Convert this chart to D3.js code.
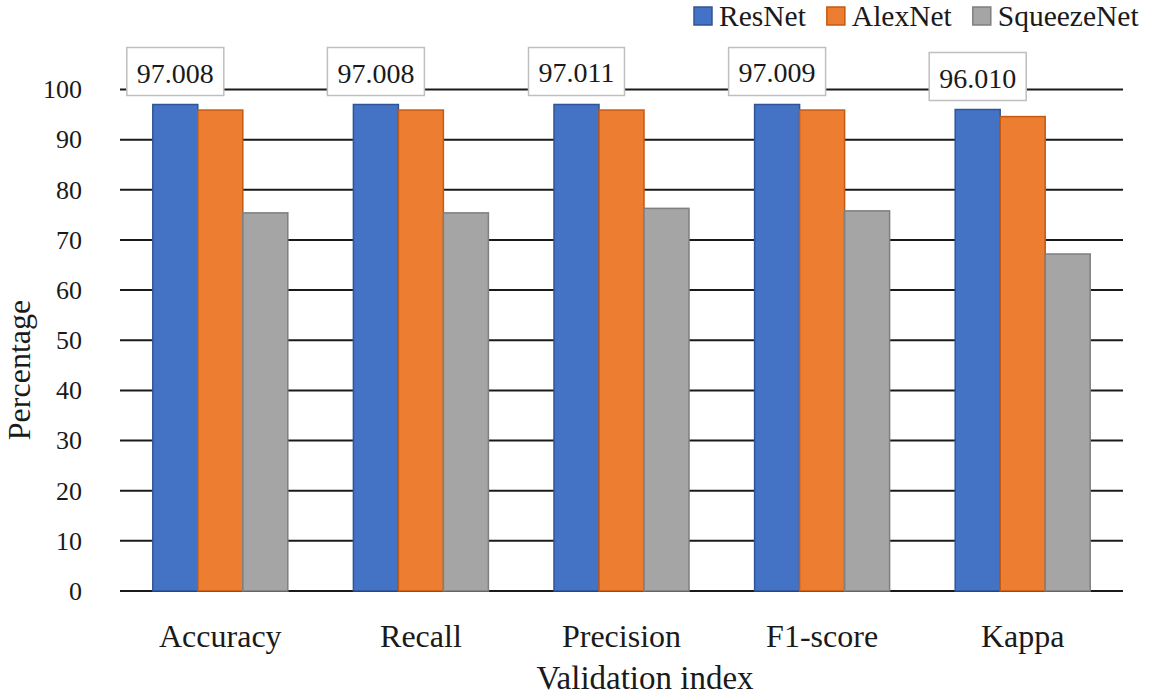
<!DOCTYPE html>
<html>
<head>
<meta charset="utf-8">
<script src="https://cdn.jsdelivr.net/npm/d3@7"></script>
<style>
  html, body { margin: 0; padding: 0; background: #fff; }
  svg { display: block; }
  svg text { font-family: "Liberation Serif", "Times New Roman", serif !important; fill: #1a1a1a; }
</style>
</head>
<body>
<svg id="chart" width="1155" height="696" font-family="Liberation Serif"></svg>
<script>
const categories = ["Accuracy", "Recall", "Precision", "F1-score", "Kappa"];
const seriesNames = ["ResNet", "AlexNet", "SqueezeNet"];
const resnet = [97.008, 97.008, 97.011, 97.009, 96.010];
const alexnet = [95.9, 95.9, 95.9, 95.9, 94.6];
const squeezenet = [75.4, 75.4, 76.3, 75.8, 67.2];
const resnetLabels = ["97.008", "97.008", "97.011", "97.009", "96.010"];
const yTicks = [0, 10, 20, 30, 40, 50, 60, 70, 80, 90, 100];

const fills = ["#4472C4", "#ED7D31", "#A5A5A5"];
const strokes = ["#2F5597", "#C55A11", "#7F7F7F"];
const FONT = "Liberation Serif";

const svg = d3.select("#chart");
const plot = { left: 120, right: 1123, top: 89.5, bottom: 591 };

const x = d3.scaleBand().domain(categories).range([plot.left, plot.right])
  .paddingInner(0.327).paddingOuter(0.1635);
const xs = d3.scaleBand().domain(seriesNames).range([0, x.bandwidth()]).padding(0);
const y = d3.scaleLinear().domain([0, 100]).range([plot.bottom, plot.top]);

// gridlines
svg.append("g").selectAll("line").data(yTicks).join("line")
  .attr("x1", plot.left).attr("x2", plot.right)
  .attr("y1", d => y(d)).attr("y2", d => y(d))
  .attr("stroke", "#1a1a1a").attr("stroke-width", 2);

// y tick labels
const yAxis = d3.axisLeft(y).tickValues(yTicks).tickSize(0).tickPadding(0);
const yg = svg.append("g").attr("transform", `translate(82,0)`).call(yAxis);
yg.attr("font-family", FONT);
yg.select(".domain").remove();
yg.selectAll("text").attr("font-size", 26).style("font-family", FONT).attr("fill", "#1a1a1a");

// bars
const data = categories.map((c, i) => ({ cat: c, vals: [resnet[i], alexnet[i], squeezenet[i]] }));
const groups = svg.append("g").selectAll("g").data(data).join("g")
  .attr("transform", d => `translate(${x(d.cat)},0)`);
groups.selectAll("rect").data(d => d.vals.map((v, j) => ({ s: seriesNames[j], v, j })))
  .join("rect")
  .attr("x", d => xs(d.s))
  .attr("width", xs.bandwidth())
  .attr("y", d => y(d.v))
  .attr("height", d => y(0) - y(d.v))
  .attr("fill", d => fills[d.j])
  .attr("stroke", d => strokes[d.j])
  .attr("stroke-width", 1.5);

// data labels for ResNet
const lg = svg.append("g");
categories.forEach((c, i) => {
  const cx = x(c) + xs("ResNet") + xs.bandwidth() / 2;
  const boxBottom = y(resnet[i]) - 9;
  const g = lg.append("g");
  const t = g.append("text").attr("x", cx).attr("y", boxBottom - 13)
    .attr("text-anchor", "middle").attr("font-size", 28).style("font-family", FONT)
    .text(resnetLabels[i]);
  const w = t.node().getComputedTextLength() + 20;
  g.insert("rect", "text").attr("x", cx - w / 2).attr("y", boxBottom - 48)
    .attr("width", w).attr("height", 48)
    .attr("fill", "#fff").attr("stroke", "#BFBFBF").attr("stroke-width", 1.5);
});

// category labels
svg.append("g").selectAll("text").data(categories).join("text")
  .attr("x", d => x(d) + x.bandwidth() / 2).attr("y", 647)
  .attr("text-anchor", "middle").attr("font-size", 32).style("font-family", FONT).text(d => d);

// axis titles
svg.append("text").attr("x", 645).attr("y", 689).attr("text-anchor", "middle")
  .attr("font-size", 33).style("font-family", FONT).text("Validation index");
svg.append("text").attr("transform", "translate(30,370) rotate(-90)")
  .attr("text-anchor", "middle").attr("font-size", 32).style("font-family", FONT).text("Percentage");

// legend
const leg = svg.append("g");
let lx = 694;
seriesNames.forEach((s, j) => {
  leg.append("rect").attr("x", lx).attr("y", 7).attr("width", 18).attr("height", 18)
    .attr("fill", fills[j]).attr("stroke", strokes[j]).attr("stroke-width", 1.5);
  const t = leg.append("text").attr("x", lx + 25).attr("y", 26).attr("font-size", 29.5)
    .style("font-family", FONT).text(s);
  lx += 25 + t.node().getComputedTextLength() + 21;
});
</script>
</body>
</html>
